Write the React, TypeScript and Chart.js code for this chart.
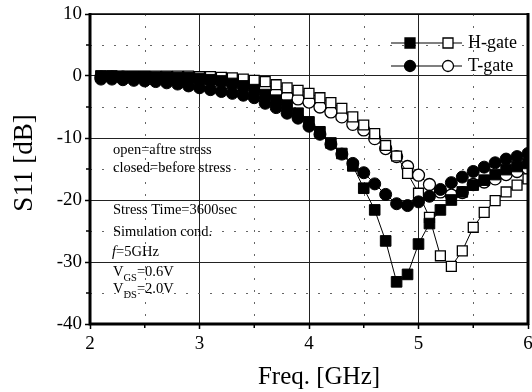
import React, { useEffect, useRef } from "react";
import { Chart, registerables } from "chart.js";

Chart.register(...registerables);

const FONT = "'Liberation Serif', 'Times New Roman', Times, serif";

// Frequency points (GHz)
const freq = [
  2.1, 2.2, 2.3, 2.4, 2.5, 2.6, 2.7, 2.8, 2.9, 3.0,
  3.1, 3.2, 3.3, 3.4, 3.5, 3.6, 3.7, 3.8, 3.9, 4.0,
  4.1, 4.2, 4.3, 4.4, 4.5, 4.6, 4.7, 4.8, 4.9, 5.0,
  5.1, 5.2, 5.3, 5.4, 5.5, 5.6, 5.7, 5.8, 5.9, 6.0,
];

// H-gate, closed = before stress (dB)
const hGateBefore = [
  0.0, 0.0, -0.1, -0.1, -0.1, -0.2, -0.2, -0.3, -0.3, -0.4,
  -0.6, -0.8, -1.2, -1.6, -2.2, -3.0, -3.9, -4.7, -6.0, -7.4,
  -9.0, -10.8, -12.5, -14.5, -18.1, -21.6, -26.6, -33.2, -32.0, -27.1,
  -23.8, -21.6, -20.0, -18.7, -17.6, -16.8, -15.9, -15.1, -14.6, -14.1,
];

// T-gate, closed = before stress (dB)
const tGateBefore = [
  -0.5, -0.5, -0.6, -0.7, -0.8, -0.9, -1.1, -1.3, -1.6, -1.9,
  -2.2, -2.5, -2.8, -3.1, -3.5, -4.4, -5.1, -6.0, -6.8, -8.1,
  -9.4, -11.0, -12.6, -14.1, -15.6, -17.4, -19.1, -20.6, -20.9, -20.3,
  -19.4, -18.3, -17.2, -16.3, -15.4, -14.7, -14.0, -13.4, -13.0, -12.5,
];

// H-gate, open = after stress (dB)
const hGateAfter = [
  0.0, 0.0, 0.0, 0.0, 0.0, 0.0, 0.0, 0.0, 0.0, -0.1,
  -0.1, -0.2, -0.3, -0.5, -0.7, -0.9, -1.4, -1.9, -2.3, -2.8,
  -3.5, -4.3, -5.2, -6.6, -7.9, -9.3, -11.2, -12.9, -15.7, -18.9,
  -22.8, -29.0, -30.7, -28.2, -24.4, -22.0, -20.1, -18.7, -17.6, -16.6,
];

// T-gate, open = after stress (dB)
const tGateAfter = [
  -0.2, -0.2, -0.2, -0.3, -0.3, -0.3, -0.4, -0.4, -0.5, -0.6,
  -0.7, -0.8, -1.0, -1.3, -1.6, -2.1, -2.8, -3.3, -3.7, -4.2,
  -5.0, -5.8, -6.6, -7.8, -8.7, -10.1, -11.7, -13.0, -14.6, -16.0,
  -17.5, -18.7, -19.2, -18.8, -17.5, -17.1, -16.6, -15.9, -15.4, -14.9,
];

const xMin = 2;
const xMax = 6;
const xStep = 1;
const yMin = -40;
const yMax = 10;
const yStep = 10;
const minorX = [2.5, 3.5, 4.5, 5.5];
const minorY = [5, -5, -15, -25, -35];

const xTitle = "Freq. [GHz]";
const yTitle = "S11 [dB]";
const legendLabels = ["H-gate", "T-gate"];
const noteLines = ["open=aftre stress", "closed=before stress", "Stress Time=3600sec", "Simulation cond."];

const toPoints = (ys: number[]) => freq.map((f, i) => ({ x: f, y: ys[i] }));

const overlay = {
  id: "overlay",
  beforeDatasetsDraw(chart: any) {
    const { ctx, chartArea: ca, scales } = chart;
    const x = scales.x;
    const y = scales.y;
    ctx.save();
    ctx.strokeStyle = "#666";
    ctx.lineWidth = 1;
    ctx.setLineDash([2, 10]);
    for (const v of minorX) {
      const px = Math.round(x.getPixelForValue(v)) + 0.5;
      ctx.beginPath();
      ctx.moveTo(px, ca.top);
      ctx.lineTo(px, ca.bottom);
      ctx.stroke();
    }
    for (const v of minorY) {
      const py = Math.round(y.getPixelForValue(v)) + 0.5;
      ctx.beginPath();
      ctx.moveTo(ca.left, py);
      ctx.lineTo(ca.right, py);
      ctx.stroke();
    }
    ctx.restore();
  },
  afterDatasetsDraw(chart: any) {
    const { ctx, chartArea: ca, scales } = chart;
    const x = scales.x;
    const y = scales.y;
    ctx.save();
    ctx.setLineDash([]);
    ctx.strokeStyle = "#000";
    // frame
    ctx.lineWidth = 1.5;
    ctx.beginPath();
    ctx.moveTo(ca.left, ca.top);
    ctx.lineTo(ca.right, ca.top);
    ctx.stroke();
    ctx.lineWidth = 3;
    ctx.beginPath();
    ctx.moveTo(ca.left, ca.top - 1);
    ctx.lineTo(ca.left, ca.bottom);
    ctx.lineTo(ca.right, ca.bottom);
    ctx.stroke();
    ctx.lineWidth = 3;
    ctx.beginPath();
    ctx.moveTo(ca.right, ca.top - 1);
    ctx.lineTo(ca.right, ca.bottom + 1);
    ctx.stroke();
    // minor ticks
    ctx.lineWidth = 1.5;
    for (const v of minorX) {
      const px = x.getPixelForValue(v);
      ctx.beginPath();
      ctx.moveTo(px, ca.bottom);
      ctx.lineTo(px, ca.bottom + 4);
      ctx.stroke();
    }
    for (const v of minorY) {
      const py = y.getPixelForValue(v);
      ctx.beginPath();
      ctx.moveTo(ca.left, py);
      ctx.lineTo(ca.left - 4, py);
      ctx.stroke();
    }

    // legend
    const drawSym = (kind: string, cx: number, cy: number, filled: boolean) => {
      ctx.fillStyle = filled ? "#000" : "#fff";
      ctx.strokeStyle = "#000";
      ctx.lineWidth = 1.3;
      ctx.beginPath();
      if (kind === "rect") {
        ctx.rect(cx - 5, cy - 5, 10, 10);
      } else {
        ctx.arc(cx, cy, 5.5, 0, Math.PI * 2);
      }
      ctx.fill();
      ctx.stroke();
    };
    const rows = [
      { y: 43, kind: "rect", label: legendLabels[0] },
      { y: 66, kind: "circle", label: legendLabels[1] },
    ];
    for (const r of rows) {
      ctx.strokeStyle = "#000";
      ctx.lineWidth = 1.2;
      ctx.beginPath();
      ctx.moveTo(391, r.y);
      ctx.lineTo(462, r.y);
      ctx.stroke();
      drawSym(r.kind, 410, r.y, true);
      drawSym(r.kind, 448, r.y, false);
      ctx.fillStyle = "#000";
      ctx.font = `18px ${FONT}`;
      ctx.textAlign = "left";
      ctx.textBaseline = "middle";
      ctx.fillText(r.label, 468, r.y);
    }

    // notes
    ctx.fillStyle = "#000";
    ctx.textAlign = "left";
    ctx.textBaseline = "middle";
    ctx.font = `14.5px ${FONT}`;
    const noteY = [150, 168, 210, 232];
    noteLines.forEach((t, i) => ctx.fillText(t, 113, noteY[i]));
    // f=5GHz
    ctx.font = `italic 14.5px ${FONT}`;
    ctx.fillText("f", 112, 252);
    const w = ctx.measureText("f").width;
    ctx.font = `14.5px ${FONT}`;
    ctx.fillText("=5GHz", 112 + w, 252);
    // V_GS, V_DS
    const vLine = (sub: string, rest: string, yy: number) => {
      ctx.font = `14.5px ${FONT}`;
      ctx.fillText("V", 113, yy);
      const vw = ctx.measureText("V").width;
      ctx.font = `10.5px ${FONT}`;
      ctx.fillText(sub, 113 + vw, yy + 6);
      const sw = ctx.measureText(sub).width;
      ctx.font = `14.5px ${FONT}`;
      ctx.fillText(rest, 113 + vw + sw, yy);
    };
    vLine("GS", "=0.6V", 272);
    vLine("DS", "=2.0V", 289);

    // axis titles
    ctx.font = `25px ${FONT}`;
    ctx.textAlign = "center";
    ctx.textBaseline = "alphabetic";
    ctx.fillText(xTitle, 319, 384);
    ctx.save();
    ctx.translate(32, 163);
    ctx.rotate(-Math.PI / 2);
    ctx.font = `27px ${FONT}`;
    ctx.fillText(yTitle, 0, 0);
    ctx.restore();

    ctx.restore();
  },
};

export default function App() {
  const ref = useRef<HTMLCanvasElement | null>(null);
  useEffect(() => {
    if (!ref.current) return;
    const chart = new Chart(ref.current, {
      type: "line",
      data: {
        datasets: [
          {
            label: "H-gate before",
            data: toPoints(hGateBefore),
            borderColor: "#000",
            borderWidth: 1,
            pointStyle: "rect",
            pointRadius: 7.5,
            pointBackgroundColor: "#000",
            pointBorderColor: "#000",
            pointBorderWidth: 1,
            tension: 0,
          },
          {
            label: "T-gate before",
            data: toPoints(tGateBefore),
            borderColor: "#000",
            borderWidth: 1,
            pointStyle: "circle",
            pointRadius: 6,
            pointBackgroundColor: "#000",
            pointBorderColor: "#000",
            pointBorderWidth: 1,
            tension: 0,
          },
          {
            label: "H-gate after",
            data: toPoints(hGateAfter),
            borderColor: "#000",
            borderWidth: 1,
            pointStyle: "rect",
            pointRadius: 7,
            pointBackgroundColor: "#fff",
            pointBorderColor: "#000",
            pointBorderWidth: 1.3,
            tension: 0,
          },
          {
            label: "T-gate after",
            data: toPoints(tGateAfter),
            borderColor: "#000",
            borderWidth: 1,
            pointStyle: "circle",
            pointRadius: 6,
            pointBackgroundColor: "#fff",
            pointBorderColor: "#000",
            pointBorderWidth: 1.3,
            tension: 0,
          },
        ],
      },
      options: {
        responsive: false,
        animation: false,
        devicePixelRatio: 1,
        layout: { autoPadding: false, padding: { left: 0, right: 4, top: 14, bottom: 0 } },
        plugins: {
          legend: { display: false },
          tooltip: { enabled: false },
        },
        scales: {
          x: {
            type: "linear",
            min: xMin,
            max: xMax,
            ticks: {
              stepSize: xStep,
              color: "#000",
              font: { family: FONT, size: 19 },
              padding: 4,
              maxRotation: 0,
            },
            grid: {
              color: "#222",
              lineWidth: 1,
              tickLength: 5,
              tickColor: "#000",
              tickWidth: 1.5,
            },
            border: { display: false },
            afterFit: (s: any) => {
              s.height = 68;
              s.paddingLeft = 0;
              s.paddingRight = 0;
            },
          },
          y: {
            type: "linear",
            min: yMin,
            max: yMax,
            ticks: {
              stepSize: yStep,
              color: "#000",
              font: { family: FONT, size: 19 },
              padding: 3,
            },
            grid: {
              color: "#222",
              lineWidth: 1,
              tickLength: 5,
              tickColor: "#000",
              tickWidth: 1.5,
            },
            border: { display: false },
            afterFit: (s: any) => {
              s.width = 90;
              s.paddingTop = 0;
              s.paddingBottom = 0;
            },
          },
        },
      },
      plugins: [overlay],
    } as any);
    return () => chart.destroy();
  }, []);
  return (
    <div style={{ position: "absolute", left: 0, top: 0, width: 532, height: 392, background: "#fff" }}>
      <canvas ref={ref} width={532} height={392} style={{ display: "block" }} />
    </div>
  );
}
